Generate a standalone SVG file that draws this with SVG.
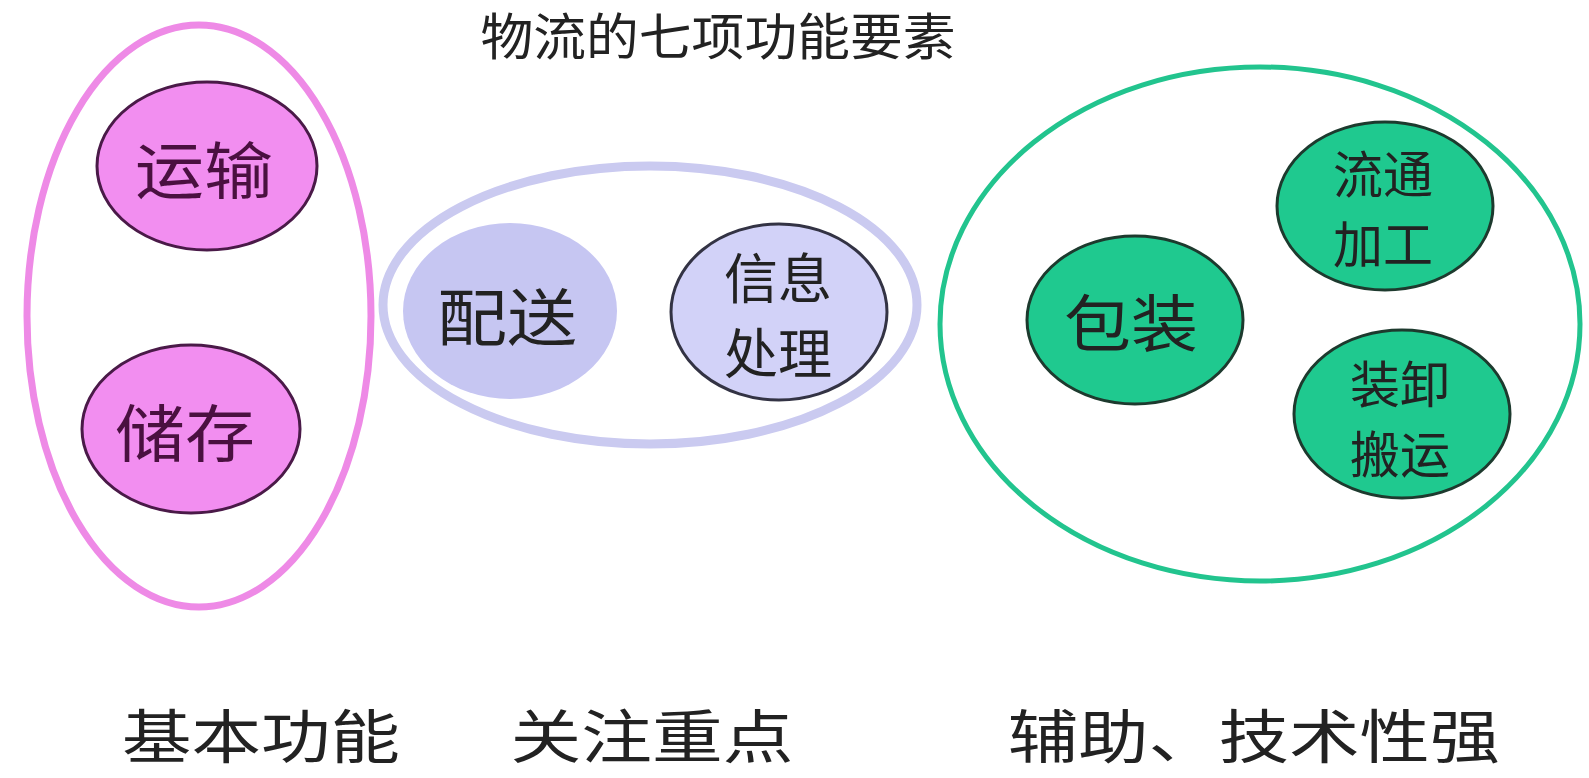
<svg xmlns="http://www.w3.org/2000/svg" width="1589" height="778" viewBox="0 0 1589 778">
<style>
text{font-family:"Noto Sans CJK SC","Noto Sans",sans-serif;text-anchor:middle;dominant-baseline:central;fill:#222}
.grp{fill:none}
.pink{fill:#f28ef0;stroke:#4a1a48;stroke-width:3}
.pinkt{fill:#4a1040;font-size:62px}
.lav{fill:#d2d2f8;stroke:#333344;stroke-width:3}
.lav0{fill:#c6c6f2;stroke:none}
.grn{fill:#1fc98f;stroke:#1d3a2e;stroke-width:3}
.nt{font-size:62px}
.nt2{font-size:54px}
.nt3{font-size:50px}
.cap{font-size:58px}
</style>
<rect width="1589" height="778" fill="#ffffff"/>
<text x="718" y="33" style="font-size:50px" textLength="475" lengthAdjust="spacingAndGlyphs">物流的七项功能要素</text>
<g id="basic">
<ellipse class="grp" cx="199" cy="316" rx="172" ry="291" stroke="#ee8ae6" stroke-width="7"/>
<g id="yunshu"><ellipse class="pink" cx="207" cy="166" rx="110" ry="84"/><text class="pinkt" x="204" y="167" textLength="138" lengthAdjust="spacingAndGlyphs">运输</text></g>
<g id="chucun"><ellipse class="pink" cx="191" cy="429" rx="109" ry="84"/><text class="pinkt" x="185" y="430" textLength="140" lengthAdjust="spacingAndGlyphs">储存</text></g>
</g>
<g id="focus">
<ellipse class="grp" cx="650" cy="305" rx="267" ry="139" stroke="#cacaf0" stroke-width="9"/>
<g id="peisong"><ellipse class="lav0" cx="510" cy="311" rx="107" ry="88"/><text class="nt" x="507" y="314" textLength="140" lengthAdjust="spacingAndGlyphs">配送</text></g>
<g id="xinxi"><ellipse class="lav" cx="779" cy="312" rx="108" ry="88"/><text class="nt2"><tspan x="778" y="275">信息</tspan><tspan x="778" y="350">处理</tspan></text></g>
</g>
<g id="aux">
<ellipse class="grp" cx="1260" cy="324" rx="320" ry="257" stroke="#22c48e" stroke-width="5"/>
<g id="baozhuang"><ellipse class="grn" cx="1135" cy="320" rx="108" ry="84"/><text class="nt" x="1131" y="320" textLength="134" lengthAdjust="spacingAndGlyphs">包装</text></g>
<g id="liutong"><ellipse class="grn" cx="1385" cy="206" rx="108" ry="84"/><text class="nt3"><tspan x="1383" y="171">流通</tspan><tspan x="1383" y="241">加工</tspan></text></g>
<g id="zhuangxie"><ellipse class="grn" cx="1402" cy="414" rx="108" ry="84"/><text class="nt3"><tspan x="1400" y="381">装卸</tspan><tspan x="1400" y="451">搬运</tspan></text></g>
</g>
<g id="connectors"></g>
<g id="captions">
<text class="cap" x="261" y="733" textLength="278" lengthAdjust="spacingAndGlyphs">基本功能</text>
<text class="cap" x="652" y="733" textLength="283" lengthAdjust="spacingAndGlyphs">关注重点</text>
<text class="cap" x="1254" y="733" textLength="492" lengthAdjust="spacingAndGlyphs">辅助、技术性强</text>
</g>
</svg>
